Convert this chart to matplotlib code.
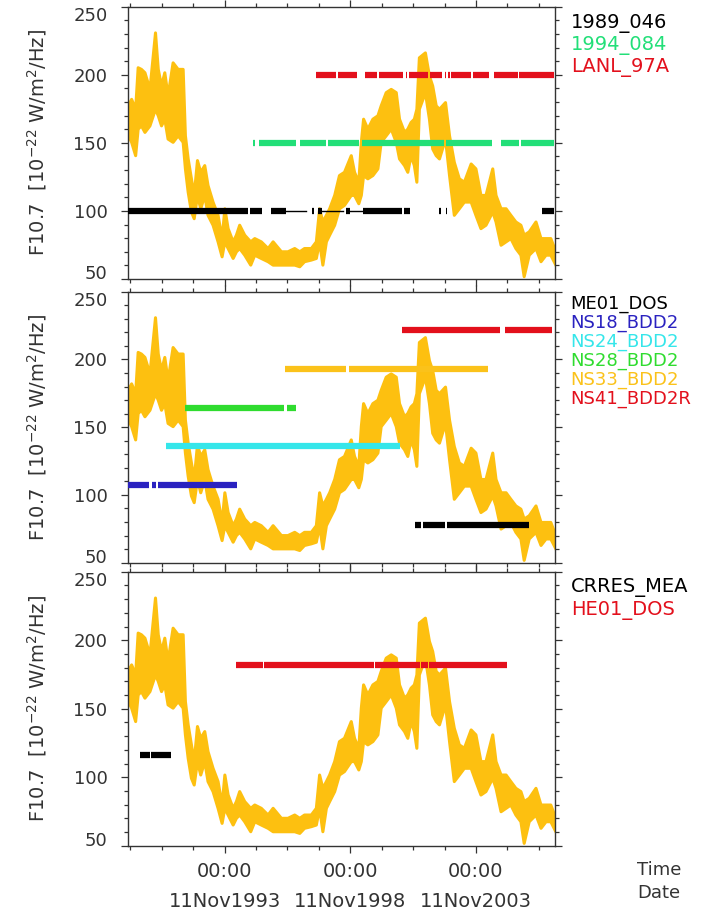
import numpy as np
import matplotlib.pyplot as plt
from matplotlib.ticker import MultipleLocator, FixedLocator

# F10.7 solar flux envelope (decimal year, upper edge, lower edge)
f107_year = [1989.89, 1990.03, 1990.16, 1990.32, 1990.42, 1990.55, 1990.69, 1990.89,
             1991.11, 1991.22, 1991.35, 1991.48, 1991.61, 1991.81, 1992.01, 1992.21,
             1992.30, 1992.41, 1992.54, 1992.65, 1992.78, 1992.91, 1993.07, 1993.20,
             1993.40, 1993.60, 1993.76, 1993.87, 1994.00, 1994.20, 1994.33, 1994.46,
             1994.66, 1994.90, 1995.06, 1995.32, 1995.59, 1995.79, 1996.12, 1996.38,
             1996.65, 1996.85, 1997.04, 1997.31, 1997.51, 1997.64, 1997.77, 1997.91,
             1998.04, 1998.24, 1998.43, 1998.63, 1998.90, 1999.03, 1999.20, 1999.30,
             1999.39, 1999.56, 1999.76, 1999.96, 2000.09, 2000.29, 2000.49, 2000.69,
             2000.82, 2001.02, 2001.15, 2001.28, 2001.41, 2001.51, 2001.61, 2001.85,
             2002.01, 2002.14, 2002.28, 2002.41, 2002.65, 2002.81, 2003.00, 2003.20,
             2003.40, 2003.67, 2003.86, 2004.06, 2004.26, 2004.53, 2004.66, 2004.86,
             2005.06, 2005.25, 2005.45, 2005.65, 2005.78, 2005.98, 2006.25, 2006.45,
             2006.65, 2006.84, 2007.04]
f107_hi = [186.9, 177.2, 182.0, 174.7, 205.2, 204.0, 201.5, 189.3,
           230.8, 204.0, 191.8, 201.5, 184.5, 208.8, 204.0, 204.0,
           155.2, 138.2, 123.6, 111.4, 137.0, 128.4, 133.3, 118.7,
           106.5, 96.8, 79.7, 101.6, 87.0, 77.3, 82.2, 89.5,
           82.2, 77.3, 79.7, 77.3, 72.4, 77.3, 70.0, 70.0,
           72.4, 70.0, 72.4, 72.4, 77.3, 101.6, 91.9, 96.8,
           101.6, 111.4, 126.0, 128.4, 140.6, 128.4, 121.1, 150.4,
           167.4, 160.1, 167.4, 169.9, 177.2, 186.9, 189.3, 186.9,
           167.4, 157.7, 160.1, 165.0, 167.4, 174.7, 212.5, 216.1,
           199.1, 191.8, 177.2, 174.7, 179.6, 155.2, 135.7, 123.6,
           121.1, 134.5, 130.9, 111.4, 111.4, 130.9, 111.4, 101.6,
           101.6, 96.8, 91.9, 89.5, 82.2, 84.6, 91.9, 79.7,
           79.7, 79.7, 70.0]
f107_lo = [157.7, 155.2, 150.4, 140.6, 160.1, 162.5, 157.7, 162.5,
           174.7, 169.9, 162.5, 167.4, 152.8, 150.4, 155.2, 150.4,
           130.9, 113.8, 99.2, 94.3, 111.4, 101.6, 111.4, 96.8,
           89.5, 77.3, 66.3, 77.3, 72.4, 65.1, 70.0, 72.4,
           67.5, 60.2, 67.5, 65.1, 62.7, 60.2, 60.2, 60.2,
           60.2, 59.0, 62.7, 63.9, 65.1, 77.3, 60.2, 77.3,
           82.2, 89.5, 101.6, 104.1, 111.4, 111.4, 105.3, 111.4,
           126.0, 123.6, 126.0, 130.9, 150.4, 155.2, 160.1, 150.4,
           138.2, 133.3, 128.4, 140.6, 133.3, 121.1, 174.7, 186.9,
           167.4, 145.5, 140.6, 138.2, 152.8, 126.0, 96.8, 101.6,
           106.5, 106.5, 96.8, 87.0, 89.5, 99.2, 91.9, 74.8,
           77.3, 79.7, 72.4, 67.5, 51.7, 67.5, 72.4, 62.7,
           67.5, 67.5, 60.2]

# satellite coverage: name, colour, level, thick segments, thin segments
panel1_names = ['1989_046', '1994_084', 'LANL_97A']
panel1_colors = ['#000000', '#22df78', '#e3101c']
panel1_levels = [100, 150, 200]
panel1_segments = [
    [(1990.0, 1994.79), (1994.86, 1995.36), (1995.72, 1996.29), (1997.35, 1997.40),
     (1997.59, 1997.72), (1998.70, 1998.86), (1999.36, 2000.92), (2000.98, 2001.22),
     (2002.41, 2002.47), (2002.66, 2002.71), (2006.49, 2006.98)],
    [(1994.97, 1995.07), (1995.23, 1996.71), (1996.85, 1997.88), (1997.96, 1999.20),
     (1999.31, 2002.57), (2002.67, 2004.50), (2004.86, 2005.59), (2005.67, 2006.98)],
    [(1997.48, 1998.30), (1998.38, 1999.12), (1999.44, 1999.92), (2000.02, 2000.97),
     (2001.08, 2001.12), (2001.19, 2001.94), (2002.04, 2002.51), (2002.61, 2002.67),
     (2002.74, 2002.81), (2002.87, 2003.67), (2003.73, 2004.39), (2004.58, 2005.52),
     (2005.59, 2006.98)],
]
panel1_thin = [(1996.29, 1997.11), (1997.72, 1998.59), (1998.86, 1999.33)]

panel2_names = ['ME01_DOS', 'NS18_BDD2', 'NS24_BDD2', 'NS28_BDD2', 'NS33_BDD2', 'NS41_BDD2R']
panel2_colors = ['#000000', '#2a22c0', '#35e6ea', '#2fdc2f', '#fbc21a', '#e3101c']
panel2_levels = [78, 107, 136, 164, 193, 222]
panel2_segments = [
    [(2001.45, 2001.68), (2001.77, 2002.61), (2002.70, 2005.96)],
    [(1990.0, 1990.86), (1990.97, 1991.13), (1991.22, 1994.36)],
    [(1991.52, 2000.84)],
    [(1992.28, 1996.21), (1996.34, 1996.69)],
    [(1996.25, 1998.70), (1998.81, 2004.33)],
    [(2000.92, 2004.82), (2005.03, 2006.89)],
]

panel3_names = ['CRRES_MEA', 'HE01_DOS']
panel3_colors = ['#000000', '#e3101c']
panel3_levels = [116, 182]
panel3_segments = [
    [(1990.49, 1990.89), (1990.95, 1991.72)],
    [(1994.30, 1995.37), (1995.41, 1999.81), (1999.86, 2001.63), (2001.67, 2001.96),
     (2002.00, 2005.10)],
]

major_years = [1993.86, 1998.86, 2003.86]
major_labels = ['00:00\n11Nov1993', '00:00\n11Nov1998', '00:00\n11Nov2003']
y_ticks = [50, 100, 150, 200, 250]

f107_color = '#fdc010'
text_color = '#333333'

fig = plt.figure(figsize=(7.05, 9.13), dpi=100)
rects = [[0.181, 0.6944, 0.606, 0.2982],
         [0.181, 0.3837, 0.606, 0.2968],
         [0.181, 0.0737, 0.606, 0.3001]]

panels = [(panel1_names, panel1_colors, panel1_levels, panel1_segments, 0.081, 0.940, 14),
          (panel2_names, panel2_colors, panel2_levels, panel2_segments, 0.070, 0.955, 13),
          (panel3_names, panel3_colors, panel3_levels, panel3_segments, 0.081, 0.941, 14)]

for i, (names, colors, levels, segs, step, y0, lfs) in enumerate(panels):
    ax = fig.add_axes(rects[i])
    ax.fill_between(f107_year, f107_lo, f107_hi, color=f107_color, lw=0, zorder=1)
    ax.plot(f107_year, f107_hi, color=f107_color, lw=2.2, zorder=1)
    ax.plot(f107_year, f107_lo, color=f107_color, lw=2.2, zorder=1)

    for lev, col, sat in zip(levels, colors, segs):
        for a, b in sat:
            ax.plot([a, b], [lev, lev], color=col, lw=4.5, solid_capstyle='butt', zorder=3)
    if i == 0:
        for a, b in panel1_thin:
            ax.plot([a, b], [100, 100], color='#000000', lw=1.0, zorder=3)

    for k, (nm, col) in enumerate(zip(names, colors)):
        ax.text(1.037, y0 - k * step, nm, color=col, fontsize=lfs,
                transform=ax.transAxes, ha='left', va='center')

    ax.set_xlim(1990.0, 2007.0)
    ax.set_ylim(50, 250)
    ax.set_yticks(y_ticks)
    ax.yaxis.set_minor_locator(MultipleLocator(10))
    ax.xaxis.set_major_locator(FixedLocator(major_years))
    ax.xaxis.set_minor_locator(FixedLocator(np.arange(1990.11, 2007.0, 1.25)))
    ax.tick_params(which='both', direction='out', top=True, right=True,
                   colors=text_color, width=0.9)
    ax.tick_params(which='major', length=5)
    ax.tick_params(which='minor', length=3)
    ax.tick_params(axis='y', labelsize=13, pad=9.5)
    ax.tick_params(axis='x', labelsize=14, pad=7)
    # end labels sit inside the frame, as in the original plot
    ylabs = ax.get_yticklabels()
    ylabs[0].set_va('baseline')
    ylabs[-1].set_va('top')
    for sp in ax.spines.values():
        sp.set_color(text_color)
        sp.set_linewidth(1.0)
    ax.set_ylabel('F10.7  [10$^{-22}$ W/m$^2$/Hz]', fontsize=14, color=text_color)
    ax.yaxis.set_label_coords(-0.183, 0.5)
    if i == 2:
        ax.set_xticklabels(major_labels, linespacing=1.74)
    else:
        ax.set_xticklabels([])

fig.text(0.935, 0.0471, 'Time', fontsize=13, color=text_color, ha='center', va='center')
fig.text(0.935, 0.0219, 'Date', fontsize=13, color=text_color, ha='center', va='center')

fig.savefig('out.png', dpi=100)
